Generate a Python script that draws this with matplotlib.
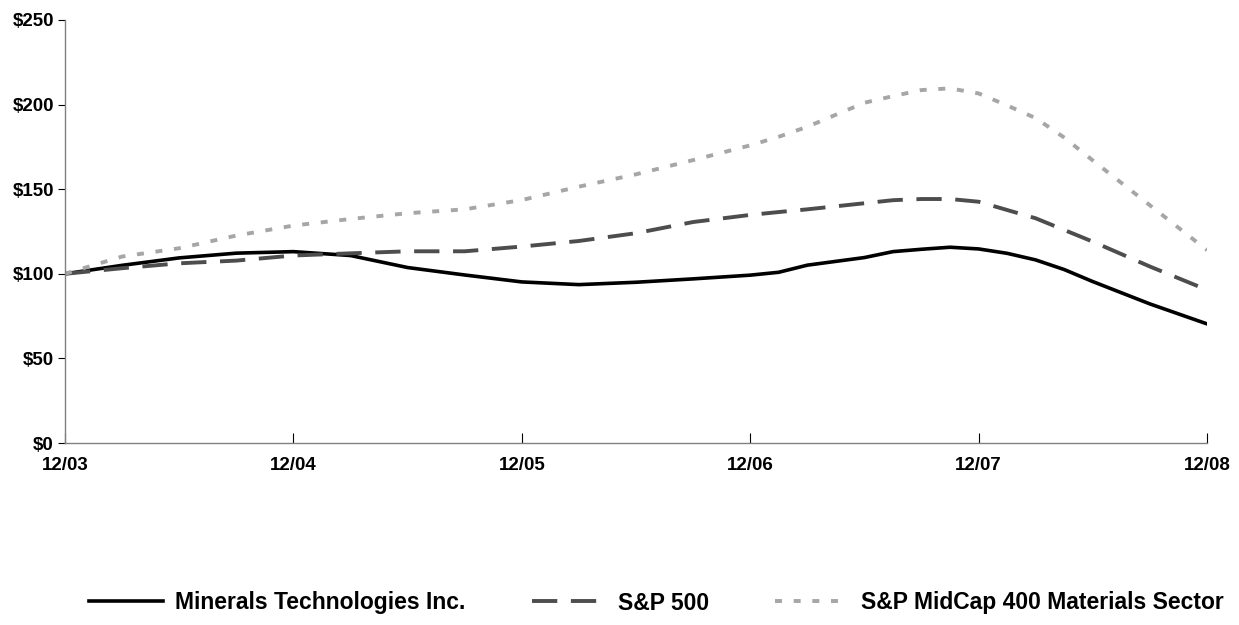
import matplotlib.pyplot as plt
from matplotlib.ticker import FuncFormatter

plt.rcParams['font.family'] = ['Liberation Sans', 'DejaVu Sans']
plt.rcParams['font.weight'] = 'bold'

# time in years after 12/03
years = [0, 0.25, 0.5, 0.75, 1.0, 1.25, 1.5, 1.75, 2.0, 2.25, 2.5, 2.75, 3.0,
         3.125, 3.25, 3.5, 3.625, 3.75, 3.875, 4.0, 4.125, 4.25, 4.375, 4.5, 4.75, 5.0]

minerals = [100, 105.0, 109.4, 112.2, 113.1, 110.8, 103.7, 99.3, 95.2, 93.6, 95.0, 97.0, 99.2,
            100.9, 105.1, 109.6, 113.1, 114.5, 115.7, 114.7, 112.1, 108.2, 102.5, 95.4, 82.2, 70.4]
sp500 = [100, 103.3, 106.2, 107.8, 110.8, 112.1, 113.3, 113.3, 116.1, 119.4, 124.0, 130.6, 134.8,
         136.5, 138.1, 141.7, 143.5, 144.2, 144.2, 142.6, 137.7, 132.8, 125.9, 119.0, 104.3, 90.5]
midcap = [100, 110.2, 115.1, 122.6, 128.5, 132.4, 135.8, 138.1, 143.6, 151.5, 158.8, 167.2, 175.9,
          181.0, 186.9, 201.1, 205.0, 208.6, 209.6, 206.6, 199.5, 192.0, 180.5, 167.0, 140.5, 114.0]

tick_labels = ['12/03', '12/04', '12/05', '12/06', '12/07', '12/08']
labels = ['Minerals Technologies Inc.', 'S&P 500', 'S&P MidCap 400 Materials Sector']

fig = plt.figure(figsize=(12.39, 6.25), dpi=100)
ax = fig.add_axes([65 / 1239, 182 / 625, 1142 / 1239, 423 / 625])

ax.plot(years, minerals, color='black', lw=2.6, label=labels[0], solid_joinstyle='round')
ax.plot(years, sp500, color='#4d4d4d', lw=2.8, dashes=(6.5, 3.5), dash_capstyle='butt', label=labels[1])
ax.plot(years, midcap, color='#a6a6a6', lw=2.8, dashes=(1.8, 3.0), dash_capstyle='butt', label=labels[2])

ax.set_xlim(0, 5)
ax.set_ylim(0, 250)
ax.set_xticks(range(6))
ax.set_xticklabels(tick_labels)
ax.set_yticks(range(0, 251, 50))
ax.yaxis.set_major_formatter(FuncFormatter(lambda v, p: '${:d}'.format(int(v))))

for s in ['top', 'right']:
    ax.spines[s].set_visible(False)
for s in ['left', 'bottom']:
    ax.spines[s].set_color('#808080')
    ax.spines[s].set_linewidth(1.0)

ax.tick_params(axis='y', direction='out', length=5, color='black', labelsize=13.5, pad=3)
ax.tick_params(axis='x', direction='in', length=7, color='black', labelsize=13.5, pad=10)
for t in ax.get_xticklabels() + ax.get_yticklabels():
    t.set_fontweight('bold')

fig.legend(loc='center', bbox_to_anchor=(0.53, 1 - 603 / 625), ncol=3, frameon=False,
           prop={'size': 16.5, 'weight': 'bold'}, handlelength=3.2, columnspacing=2.9,
           handletextpad=0.55)

plt.savefig('out.png', dpi=100)
